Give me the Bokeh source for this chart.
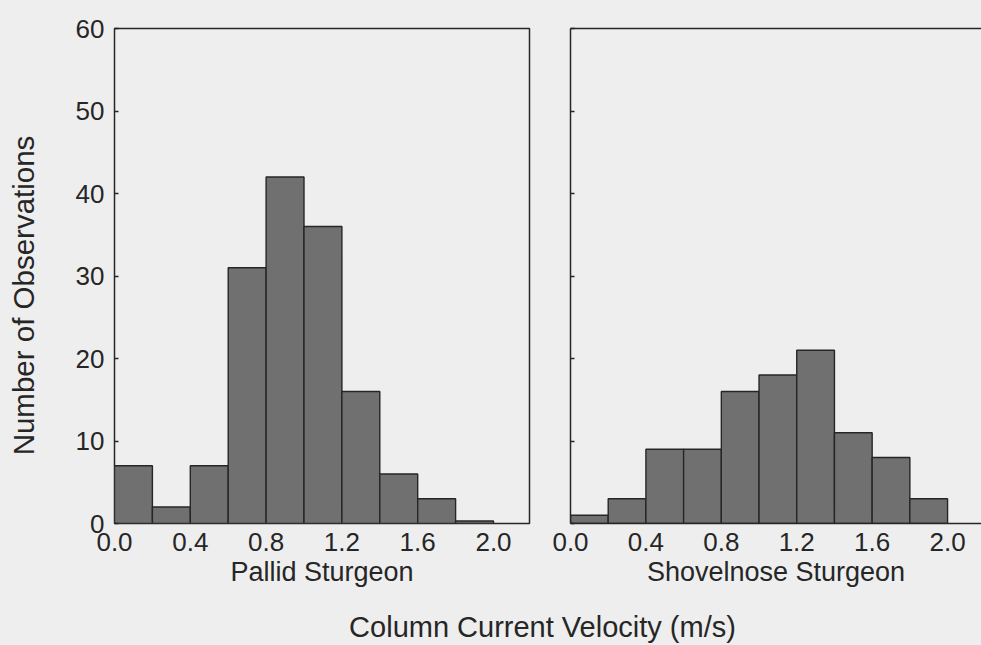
from math import pi
from bokeh.plotting import figure
from bokeh.models import Range1d, LinearAxis, Label, FixedTicker, NumeralTickFormatter
from bokeh.layouts import row, column
from bokeh.embed import file_html
from bokeh.resources import INLINE

# ---- data ----
bin_left = [0.0, 0.2, 0.4, 0.6, 0.8, 1.0, 1.2, 1.4, 1.6, 1.8]
bin_right = [0.2, 0.4, 0.6, 0.8, 1.0, 1.2, 1.4, 1.6, 1.8, 2.0]
pallid_counts = [7, 2, 7, 31, 42, 36, 16, 6, 3, 0.3]
shovelnose_counts = [1, 3, 9, 9, 16, 18, 21, 11, 8, 3]
x_ticks = [0.0, 0.4, 0.8, 1.2, 1.6, 2.0]
y_ticks = [0, 10, 20, 30, 40, 50, 60]
panel_names = ["Pallid Sturgeon", "Shovelnose Sturgeon"]
y_title = "Number of Observations"
x_title = "Column Current Velocity (m/s)"

BG = "#eeeeee"
INK = "#262626"
BAR = "#707070"
FONT = "Liberation Sans"
H = 600


def blank(width, height):
    f = figure(width=width, height=height, output_backend="svg", toolbar_location=None,
               x_axis_location=None, y_axis_location=None,
               min_border_left=0, min_border_right=0, min_border_top=0, min_border_bottom=0,
               background_fill_color=BG, border_fill_color=BG, outline_line_color=None)
    f.xgrid.grid_line_color = None
    f.ygrid.grid_line_color = None
    return f


def make_panel(counts, width, xmax, name, min_left, min_right, outline):
    p = figure(width=width, height=H,
               x_range=Range1d(0, xmax), y_range=Range1d(0, 60),
               output_backend="svg", toolbar_location=None,
               min_border_left=min_left, min_border_right=min_right,
               min_border_top=28, min_border_bottom=77,
               background_fill_color=BG, border_fill_color=BG)
    p.xgrid.grid_line_color = None
    p.ygrid.grid_line_color = None
    p.quad(left=bin_left, right=bin_right, bottom=0, top=counts,
           fill_color=BAR, line_color=INK, line_width=1.4)

    xa = p.xaxis[0]
    xa.ticker = FixedTicker(ticks=x_ticks)
    xa.formatter = NumeralTickFormatter(format="0.0")
    xa.major_tick_line_color = None
    xa.minor_tick_line_color = None
    xa.major_label_text_font = FONT
    xa.major_label_text_font_size = "26px"
    xa.major_label_text_color = INK
    xa.major_label_standoff = 3
    xa.axis_label = name
    xa.axis_label_text_font = FONT
    xa.axis_label_text_font_size = "27px"
    xa.axis_label_text_font_style = "normal"
    xa.axis_label_text_color = INK
    xa.axis_label_standoff = 3

    ya = p.yaxis[0]
    ya.ticker = FixedTicker(ticks=y_ticks)
    ya.major_tick_in = 4
    ya.major_tick_out = 0
    ya.major_tick_line_color = INK
    ya.major_tick_line_width = 1.5
    ya.minor_tick_line_color = None

    if outline:
        p.outline_line_color = INK
        p.outline_line_width = 1.5
        xa.axis_line_color = None
        ya.axis_line_color = None
    else:
        p.outline_line_color = None
        xa.axis_line_color = INK
        xa.axis_line_width = 1.5
        ya.axis_line_color = INK
        ya.axis_line_width = 1.5
        top = LinearAxis(ticker=FixedTicker(ticks=[]),
                         major_tick_line_color=None,
                         minor_tick_line_color=None,
                         major_label_text_color=None,
                         axis_line_color=INK, axis_line_width=1.5)
        p.add_layout(top, "above")
    return p


# left strip holding the shared y title (its frame is aligned with the panels' frames)
p0 = blank(46, H)
p0.add_layout(Label(x=23, y=228, x_units="screen", y_units="screen",
                    text=y_title, angle=pi / 2, text_align="center",
                    text_baseline="middle", text_font=FONT,
                    text_font_size="29.5px", text_color=INK))

p1 = make_panel(pallid_counts, 504, 2.19, panel_names[0], 68, 21, True)
p1.yaxis.major_label_text_font = FONT
p1.yaxis.major_label_text_font_size = "26px"
p1.yaxis.major_label_text_color = INK
p1.yaxis.major_label_standoff = 10

p2 = make_panel(shovelnose_counts, 431, 2.18, panel_names[1], 20, 0, False)
p2.yaxis.major_label_text_color = None

# bottom strip holding the shared x title
p3 = blank(981, 45)
p3.add_layout(Label(x=542, y=19, x_units="screen", y_units="screen",
                    text=x_title, text_align="center", text_baseline="middle",
                    text_font=FONT, text_font_size="29px", text_color=INK))

layout = column(row(p0, p1, p2, spacing=0, styles={"background-color": BG}), p3,
                spacing=0, styles={"background-color": BG})
open("out.html", "w").write(file_html(layout, INLINE))
